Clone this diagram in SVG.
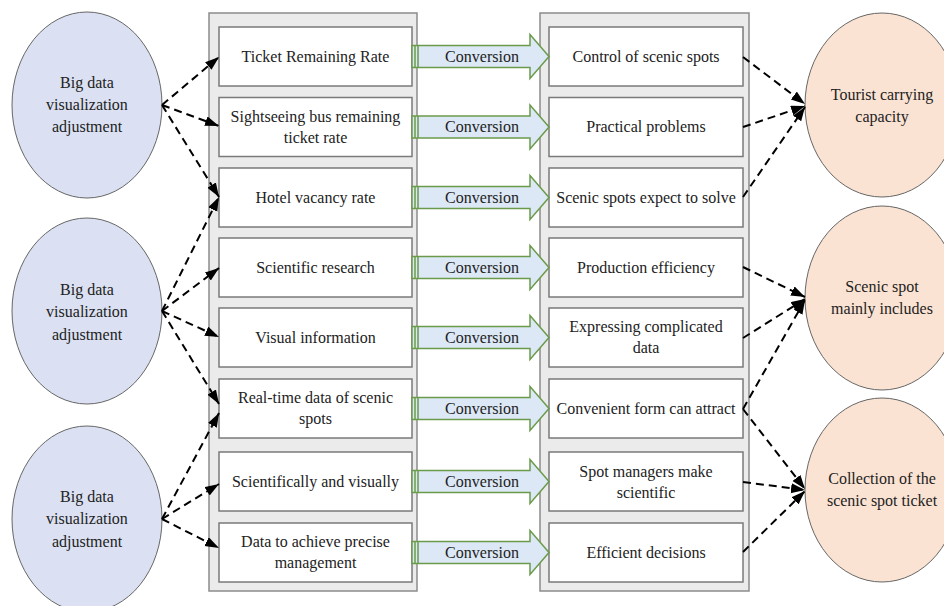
<svg xmlns="http://www.w3.org/2000/svg" xmlns:xlink="http://www.w3.org/1999/xlink" width="944" height="606" viewBox="0 0 944 606">
<style>
text{font-family:"Liberation Serif","Times New Roman",serif;font-size:16px;fill:#222;text-anchor:middle}
.panel{fill:#ebebeb;stroke:#8c8c8c;stroke-width:1.5}
.box{fill:#fff;stroke:#7a7a7a;stroke-width:1.5}
.le{fill:#dbe1f2;stroke:#666;stroke-width:1}
.re{fill:#fbe3d3;stroke:#666;stroke-width:1}
.dash{fill:none;stroke:#000;stroke-width:2;stroke-dasharray:8 5;marker-end:url(#ah)}
.conv{fill:#dce8f5;stroke:#6b9b4a;stroke-width:1.5}
.cl{stroke:#6b9b4a;stroke-width:1.5}
</style>
<defs>
<marker id="ah" markerUnits="userSpaceOnUse" markerWidth="16" markerHeight="12" refX="14" refY="5" orient="auto">
<path d="M0,0 L14,5 L0,10 z" fill="#000"/>
</marker>
<g id="cv">
<polygon class="conv" points="412,-11 530,-11 530,-22 549,0 530,22 530,11 412,11"/>
<line class="cl" x1="415" y1="-11" x2="415" y2="11"/>
<line class="cl" x1="418" y1="-11" x2="418" y2="11"/>
</g>
</defs>
<rect class="panel" x="209" y="13" width="208" height="578"/>
<rect class="panel" x="540" y="13" width="209" height="578"/>

<g id="left-ellipse-1"><ellipse class="le" cx="87" cy="105" rx="75" ry="93"/><text x="87" y="88">Big data</text><text x="87" y="110">visualization</text><text x="87" y="132">adjustment</text></g>
<g id="left-ellipse-2"><ellipse class="le" cx="87" cy="311" rx="75" ry="93"/><text x="87" y="295">Big data</text><text x="87" y="317">visualization</text><text x="87" y="340">adjustment</text></g>
<g id="left-ellipse-3"><ellipse class="le" cx="87" cy="519" rx="75" ry="93"/><text x="87" y="502">Big data</text><text x="87" y="524">visualization</text><text x="87" y="547">adjustment</text></g>

<g id="right-ellipse-1"><ellipse class="re" cx="882" cy="105" rx="77" ry="92"/><text x="882" y="100">Tourist carrying</text><text x="882" y="122">capacity</text></g>
<g id="right-ellipse-2"><ellipse class="re" cx="882" cy="298" rx="77" ry="92"/><text x="882" y="292">Scenic spot</text><text x="882" y="314">mainly includes</text></g>
<g id="right-ellipse-3"><ellipse class="re" cx="882" cy="490" rx="77" ry="92"/><text x="882" y="484">Collection of the</text><text x="882" y="506">scenic spot ticket</text></g>

<g id="l1"><rect class="box" x="219" y="27" width="193" height="59"/><text x="315.5" y="62">Ticket Remaining Rate</text></g>
<g id="l2"><rect class="box" x="219" y="97.5" width="193" height="59"/><text x="315.5" y="122">Sightseeing bus remaining</text><text x="315.5" y="143">ticket rate</text></g>
<g id="l3"><rect class="box" x="219" y="168" width="193" height="59"/><text x="315.5" y="203">Hotel vacancy rate</text></g>
<g id="l4"><rect class="box" x="219" y="238" width="193" height="59"/><text x="315.5" y="273">Scientific research</text></g>
<g id="l5"><rect class="box" x="219" y="308" width="193" height="59"/><text x="315.5" y="343">Visual information</text></g>
<g id="l6"><rect class="box" x="219" y="379" width="193" height="59"/><text x="315.5" y="403">Real-time data of scenic</text><text x="315.5" y="424">spots</text></g>
<g id="l7"><rect class="box" x="219" y="452" width="193" height="59"/><text x="315.5" y="487">Scientifically and visually</text></g>
<g id="l8"><rect class="box" x="219" y="523" width="193" height="59"/><text x="315.5" y="547">Data to achieve precise</text><text x="315.5" y="568">management</text></g>

<g id="r1"><rect class="box" x="549" y="27" width="194" height="59"/><text x="646" y="62">Control of scenic spots</text></g>
<g id="r2"><rect class="box" x="549" y="97.5" width="194" height="59"/><text x="646" y="132">Practical problems</text></g>
<g id="r3"><rect class="box" x="549" y="168" width="194" height="59"/><text x="646" y="203">Scenic spots expect to solve</text></g>
<g id="r4"><rect class="box" x="549" y="238" width="194" height="59"/><text x="646" y="273">Production efficiency</text></g>
<g id="r5"><rect class="box" x="549" y="308" width="194" height="59"/><text x="646" y="332">Expressing complicated</text><text x="646" y="353">data</text></g>
<g id="r6"><rect class="box" x="549" y="379" width="194" height="59"/><text x="646" y="414">Convenient form can attract</text></g>
<g id="r7"><rect class="box" x="549" y="452" width="194" height="59"/><text x="646" y="477">Spot managers make</text><text x="646" y="498">scientific</text></g>
<g id="r8"><rect class="box" x="549" y="523" width="194" height="59"/><text x="646" y="558">Efficient decisions</text></g>

<g id="connectors">
<use xlink:href="#cv" href="#cv" y="56.5"/><text x="482" y="62">Conversion</text>
<use xlink:href="#cv" href="#cv" y="127"/><text x="482" y="132">Conversion</text>
<use xlink:href="#cv" href="#cv" y="197.5"/><text x="482" y="203">Conversion</text>
<use xlink:href="#cv" href="#cv" y="267.5"/><text x="482" y="273">Conversion</text>
<use xlink:href="#cv" href="#cv" y="337.5"/><text x="482" y="343">Conversion</text>
<use xlink:href="#cv" href="#cv" y="408.5"/><text x="482" y="414">Conversion</text>
<use xlink:href="#cv" href="#cv" y="481.5"/><text x="482" y="487">Conversion</text>
<use xlink:href="#cv" href="#cv" y="552.5"/><text x="482" y="558">Conversion</text>

<line class="dash" x1="162" y1="105" x2="219" y2="57"/>
<line class="dash" x1="162" y1="105" x2="219" y2="126"/>
<line class="dash" x1="162" y1="105" x2="219" y2="197"/>
<line class="dash" x1="162" y1="311" x2="219" y2="197"/>
<line class="dash" x1="162" y1="311" x2="219" y2="268"/>
<line class="dash" x1="162" y1="311" x2="219" y2="337"/>
<line class="dash" x1="162" y1="311" x2="219" y2="404"/>
<line class="dash" x1="162" y1="519" x2="219" y2="413"/>
<line class="dash" x1="162" y1="519" x2="219" y2="484"/>
<line class="dash" x1="162" y1="519" x2="219" y2="548"/>

<line class="dash" x1="743" y1="57" x2="805" y2="104"/>
<line class="dash" x1="743" y1="127" x2="805" y2="106"/>
<line class="dash" x1="743" y1="197" x2="805" y2="107"/>
<line class="dash" x1="743" y1="267" x2="805" y2="297"/>
<line class="dash" x1="743" y1="338" x2="805" y2="299"/>
<line class="dash" x1="743" y1="409" x2="805" y2="300"/>
<line class="dash" x1="743" y1="409" x2="805" y2="489"/>
<line class="dash" x1="743" y1="482" x2="805" y2="490"/>
<line class="dash" x1="743" y1="552" x2="805" y2="491"/>
</g>
</svg>
